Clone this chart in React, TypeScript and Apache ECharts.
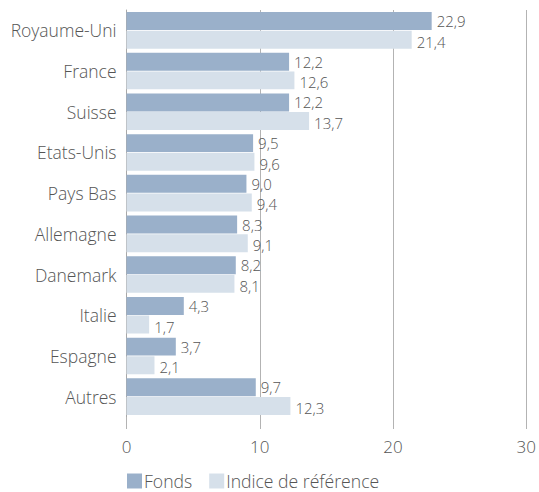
import React, { useEffect, useRef } from "react";
import * as echarts from "echarts";

const categories = ["Royaume-Uni", "France", "Suisse", "Etats-Unis", "Pays Bas", "Allemagne", "Danemark", "Italie", "Espagne", "Autres"];
const fonds = [22.9, 12.2, 12.2, 9.5, 9.0, 8.3, 8.2, 4.3, 3.7, 9.7];
const indice = [21.4, 12.6, 13.7, 9.6, 9.4, 9.1, 8.1, 1.7, 2.1, 12.3];
const xTicks = [0, 10, 20, 30];

const FONT = "'Open Sans', Lato, sans-serif";
const TEXT = "#555555";
const W = 300;

export default function App() {
  const ref = useRef<HTMLDivElement>(null);
  useEffect(() => {
    if (!ref.current) return;
    const chart = echarts.init(ref.current, undefined, { renderer: "svg" });
    const fmt = (p: any) => Number(p.value).toFixed(1).replace(".", ",");
    chart.setOption({
      animation: false,
      textStyle: { fontFamily: FONT, color: TEXT, fontWeight: W },
      grid: { left: 126.5, right: 12.3, top: 10, bottom: 75, containLabel: false },
      legend: {
        left: 127,
        top: 472,
        padding: 0,
        itemWidth: 15,
        itemHeight: 15,
        itemGap: 17,
        icon: "rect",
        textStyle: { fontFamily: FONT, fontSize: 17.6, fontWeight: W, color: TEXT, padding: [0, 0, 0, -3] },
        data: ["Fonds", "Indice de référence"],
      },
      xAxis: {
        type: "value",
        min: xTicks[0],
        max: xTicks[xTicks.length - 1],
        interval: 10,
        axisLine: { show: false },
        axisTick: { show: true, length: 12, lineStyle: { color: "#b3b3b3" } },
        splitLine: { show: true, lineStyle: { color: "#b3b3b3", width: 1 } },
        axisLabel: { fontFamily: FONT, fontSize: 17, fontWeight: W, color: TEXT, margin: 21 },
      },
      yAxis: {
        type: "category",
        data: categories,
        inverse: true,
        axisLine: { show: true, lineStyle: { color: "#a8a8a8" } },
        axisTick: { show: false },
        axisLabel: { fontFamily: FONT, fontSize: 17.5, fontWeight: W, color: TEXT, margin: 10 },
      },
      series: [
        {
          name: "Fonds",
          type: "bar",
          data: fonds,
          barCategoryGap: "10%",
          barGap: "4%",
          itemStyle: { color: "#9ab0ca" },
          label: { show: true, position: "right", distance: 5, formatter: fmt, fontFamily: FONT, fontSize: 15, fontWeight: W, color: TEXT },
        },
        {
          name: "Indice de référence",
          type: "bar",
          data: indice,
          barCategoryGap: "10%",
          barGap: "4%",
          itemStyle: { color: "#d6e0ea" },
          label: { show: true, position: "right", distance: 5, offset: [0, 2], formatter: fmt, fontFamily: FONT, fontSize: 15, fontWeight: W, color: TEXT },
        },
      ],
    });
    return () => chart.dispose();
  }, []);
  return <div ref={ref} style={{ position: "absolute", left: 0, top: 0, width: 539, height: 492 }} />;
}
